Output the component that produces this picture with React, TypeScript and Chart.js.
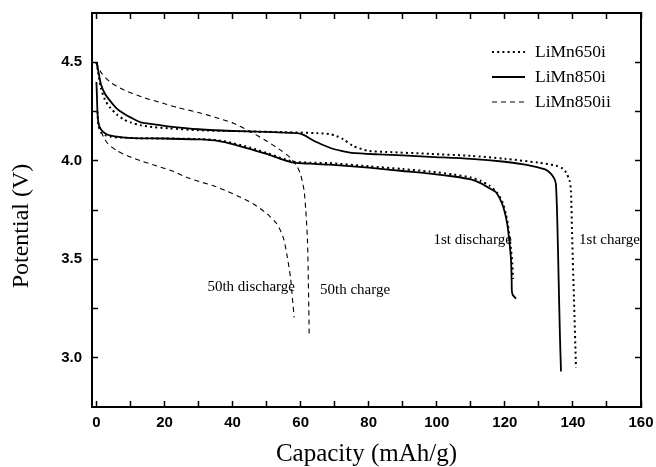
import React, { useEffect, useRef } from "react";
import { Chart, registerables } from "chart.js";

Chart.register(...registerables);

// LiMn650i (dotted) – 1st charge / 1st discharge
const cap650Charge = [0, 0.5, 1.3, 2.5, 4, 6, 8, 10, 13, 17, 21, 30, 42, 55, 65, 68.6, 70.5, 72.5, 75.4, 80, 85, 98, 110, 120, 130, 135, 137, 138, 139, 139.4, 139.8, 140.3, 140.9];
const pot650Charge = [4.5, 4.45, 4.37, 4.31, 4.27, 4.235, 4.21, 4.195, 4.18, 4.17, 4.165, 4.155, 4.15, 4.145, 4.14, 4.135, 4.125, 4.11, 4.075, 4.05, 4.045, 4.035, 4.025, 4.01, 3.99, 3.975, 3.96, 3.94, 3.9, 3.85, 3.6, 3.3, 2.95];
const cap650Discharge = [0.3, 0.6, 1.3, 2.5, 4.2, 7, 11, 20, 30.5, 36, 40, 45, 50, 54, 58, 63, 68.6, 80, 90, 98, 105, 110, 113, 115.5, 117.6, 119.3, 120.3, 121.2, 121.8, 122.2, 122.4];
const pot650Discharge = [4.25, 4.18, 4.145, 4.13, 4.122, 4.118, 4.115, 4.113, 4.11, 4.103, 4.09, 4.067, 4.04, 4.015, 3.995, 3.99, 3.988, 3.972, 3.958, 3.945, 3.93, 3.915, 3.897, 3.873, 3.84, 3.79, 3.73, 3.64, 3.55, 3.48, 3.4];

// LiMn850i (solid) – 1st charge / 1st discharge
const cap850Charge = [0, 0.5, 1.3, 2.5, 4.2, 6, 8, 10, 13, 17, 21, 30, 42, 52, 59, 61, 64, 68.6, 72, 75, 83, 90, 98, 110, 120, 126, 130, 132, 133.5, 134.5, 135, 135.4, 135.8, 136.2, 136.5];
const pot850Charge = [4.5, 4.46, 4.39, 4.34, 4.3, 4.265, 4.24, 4.22, 4.195, 4.185, 4.175, 4.16, 4.15, 4.145, 4.14, 4.13, 4.1, 4.066, 4.05, 4.04, 4.032, 4.027, 4.02, 4.01, 3.995, 3.98, 3.965, 3.955, 3.935, 3.91, 3.88, 3.7, 3.4, 3.1, 2.93];
const cap850Discharge = [0, 0.15, 0.3, 0.6, 1.3, 2.5, 4.2, 7, 11, 20, 30.5, 36, 40, 45, 50, 54, 58, 63, 68.6, 80, 90, 98, 105, 110, 113, 115.5, 117.4, 119, 119.8, 120.7, 121.3, 121.8, 122, 122.05, 122.3, 123.3];
const pot850Discharge = [4.4, 4.33, 4.25, 4.19, 4.16, 4.14, 4.127, 4.12, 4.115, 4.113, 4.108, 4.1, 4.085, 4.06, 4.035, 4.01, 3.99, 3.985, 3.98, 3.965, 3.948, 3.935, 3.92, 3.905, 3.885, 3.86, 3.84, 3.79, 3.75, 3.68, 3.595, 3.5, 3.39, 3.34, 3.32, 3.3];

// LiMn850ii (dashed) – 50th charge / 50th discharge
const cap850iiCharge = [0, 1.3, 4, 8, 14, 19, 23.8, 30, 35, 40.3, 45, 50, 54, 57, 59, 60, 61, 61.5, 62, 62.2, 62.4, 62.5];
const pot850iiCharge = [4.5, 4.45, 4.4, 4.36, 4.32, 4.295, 4.27, 4.245, 4.22, 4.19, 4.15, 4.1, 4.055, 4.015, 3.97, 3.93, 3.85, 3.75, 3.6, 3.45, 3.25, 3.12];
const cap850iiDischarge = [0.6, 1.3, 3.2, 6.1, 9.1, 13, 17.9, 22.7, 26.6, 30.5, 34.4, 38.4, 42.2, 46, 50, 53, 54.9, 56, 57, 57.6, 58.1];
const pot850iiDischarge = [4.19, 4.15, 4.09, 4.05, 4.025, 4.0, 3.973, 3.945, 3.915, 3.893, 3.873, 3.845, 3.816, 3.782, 3.732, 3.68, 3.61, 3.52, 3.41, 3.3, 3.205];

const seriesNames = ["LiMn650i", "LiMn850i", "LiMn850ii"];

const xTicks = [0, 10, 20, 30, 40, 50, 60, 70, 80, 90, 100, 110, 120, 130, 140, 150, 160];
const yTicks = [3.0, 3.25, 3.5, 3.75, 4.0, 4.25, 4.5];

const noteTexts = ["1st discharge", "1st charge", "50th discharge", "50th charge"];
const noteCap = [99.0, 141.8, 32.6, 65.7];
const notePot = [3.595, 3.595, 3.358, 3.346];

const pts = (xs: number[], ys: number[]) => xs.map((x, i) => ({ x, y: ys[i] }));

const DOTTED = [2, 3.2];
const DASHED = [5, 4];

const overlayPlugin = {
  id: "overlay",
  afterDatasetsDraw(chart: any) {
    const { ctx, chartArea, scales } = chart;
    const xs = scales.x;
    const ys = scales.y;
    ctx.save();
    ctx.beginPath();
    ctx.rect(chartArea.left, chartArea.top, chartArea.right - chartArea.left + 1, chartArea.bottom - chartArea.top);
    ctx.clip();
    ctx.fillStyle = "#000";
    ctx.font = '15px "Liberation Serif"';
    ctx.textAlign = "left";
    ctx.textBaseline = "middle";
    noteTexts.forEach((t, i) => {
      ctx.fillText(t, xs.getPixelForValue(noteCap[i]), ys.getPixelForValue(notePot[i]));
    });
    ctx.restore();

    ctx.save();
    const styles = [
      { dash: DOTTED, w: 2 },
      { dash: [], w: 1.8 },
      { dash: DASHED, w: 1.2 },
    ];
    const lx0 = chartArea.right - 149;
    const lx1 = chartArea.right - 116;
    const tx = chartArea.right - 106;
    seriesNames.forEach((name, i) => {
      const yy = chartArea.top + 39 + i * 25;
      ctx.strokeStyle = "#000";
      ctx.lineWidth = styles[i].w;
      ctx.setLineDash(styles[i].dash);
      ctx.beginPath();
      ctx.moveTo(lx0, yy);
      ctx.lineTo(lx1, yy);
      ctx.stroke();
      ctx.setLineDash([]);
      ctx.fillStyle = "#000";
      ctx.font = '17.5px "Liberation Serif"';
      ctx.textAlign = "left";
      ctx.textBaseline = "middle";
      ctx.fillText(name, tx, yy);
    });
    ctx.restore();

    ctx.save();
    ctx.translate(22, 226);
    ctx.rotate(-Math.PI / 2);
    ctx.fillStyle = "#000";
    ctx.font = '24px "Liberation Serif"';
    ctx.textAlign = "center";
    ctx.textBaseline = "middle";
    ctx.fillText("Potential (V)", 0, 0);
    ctx.restore();
  },
};

const tickFont = { family: '"Liberation Sans", Arial, sans-serif', size: 15, weight: "bold" as const };

const zeroPad = (s: any) => {
  s.paddingTop = 0;
  s.paddingBottom = 0;
  s.paddingLeft = 0;
  s.paddingRight = 0;
};

export default function App() {
  const ref = useRef<HTMLCanvasElement>(null);
  useEffect(() => {
    if (!ref.current) return;
    const mk = (label: string, xs: number[], ys: number[], dash: number[], w: number) => ({
      label,
      data: pts(xs, ys),
      showLine: true,
      borderColor: "#000",
      backgroundColor: "#000",
      borderWidth: w,
      borderDash: dash,
      pointRadius: 0,
      tension: 0.25,
      xAxisID: "x",
      yAxisID: "y",
    });
    const gridOpts = {
      drawOnChartArea: false,
      drawTicks: true,
      tickLength: -6,
      tickWidth: 1.5,
      tickColor: "#000",
    };
    const border = { display: true, color: "#000", width: 2 };
    const chart = new Chart(ref.current, {
      type: "scatter",
      data: {
        datasets: [
          mk(seriesNames[0], cap650Charge, pot650Charge, DOTTED, 2),
          mk(seriesNames[0], cap650Discharge, pot650Discharge, DOTTED, 2),
          mk(seriesNames[1], cap850Charge, pot850Charge, [], 1.8),
          mk(seriesNames[1], cap850Discharge, pot850Discharge, [], 1.8),
          mk(seriesNames[2], cap850iiCharge, pot850iiCharge, DASHED, 1.1),
          mk(seriesNames[2], cap850iiDischarge, pot850iiDischarge, DASHED, 1.1),
        ] as any,
      },
      options: {
        animation: false,
        responsive: false,
        layout: { padding: 0 },
        plugins: { legend: { display: false }, tooltip: { enabled: false } },
        scales: {
          x: {
            type: "linear",
            position: "bottom",
            min: -1.3,
            max: 160,
            afterBuildTicks: (s: any) => { s.ticks = xTicks.map((v) => ({ value: v })); },
            afterFit: (s: any) => { s.height = 60; zeroPad(s); },
            grid: gridOpts,
            border,
            ticks: {
              autoSkip: false,
              maxRotation: 0,
              padding: 13,
              color: "#000",
              font: tickFont,
              callback: (v: any) => (Number(v) % 20 === 0 ? String(v) : ""),
            },
            title: {
              display: true,
              text: "Capacity (mAh/g)",
              color: "#000",
              font: { family: '"Liberation Serif"', size: 25, lineHeight: 1 },
              padding: { top: 0, bottom: 0.5 },
            },
          },
          y: {
            type: "linear",
            position: "left",
            min: 2.75,
            max: 4.75,
            afterBuildTicks: (s: any) => { s.ticks = yTicks.map((v) => ({ value: v })); },
            afterFit: (s: any) => { s.width = 92; zeroPad(s); },
            grid: gridOpts,
            border,
            ticks: {
              autoSkip: false,
              padding: 16,
              color: "#000",
              font: tickFont,
              callback: (v: any) => (Math.abs(Number(v) * 2 - Math.round(Number(v) * 2)) < 1e-6 ? Number(v).toFixed(1) : ""),
            },
          },
          x2: {
            type: "linear",
            position: "top",
            min: -1.3,
            max: 160,
            afterBuildTicks: (s: any) => { s.ticks = xTicks.map((v) => ({ value: v })); },
            afterFit: (s: any) => { s.height = 13; zeroPad(s); },
            grid: gridOpts,
            border,
            ticks: { display: false },
          },
          y2: {
            type: "linear",
            position: "right",
            min: 2.75,
            max: 4.75,
            afterBuildTicks: (s: any) => { s.ticks = yTicks.map((v) => ({ value: v })); },
            afterFit: (s: any) => { s.width = 15; zeroPad(s); },
            grid: gridOpts,
            border,
            ticks: { display: false },
          },
        },
      } as any,
      plugins: [overlayPlugin],
    });
    return () => chart.destroy();
  }, []);
  return (
    <div style={{ position: "absolute", left: 0, top: 0, width: 656, height: 467, background: "#fff" }}>
      <canvas ref={ref} width={656} height={467} style={{ width: 656, height: 467 }} />
    </div>
  );
}
